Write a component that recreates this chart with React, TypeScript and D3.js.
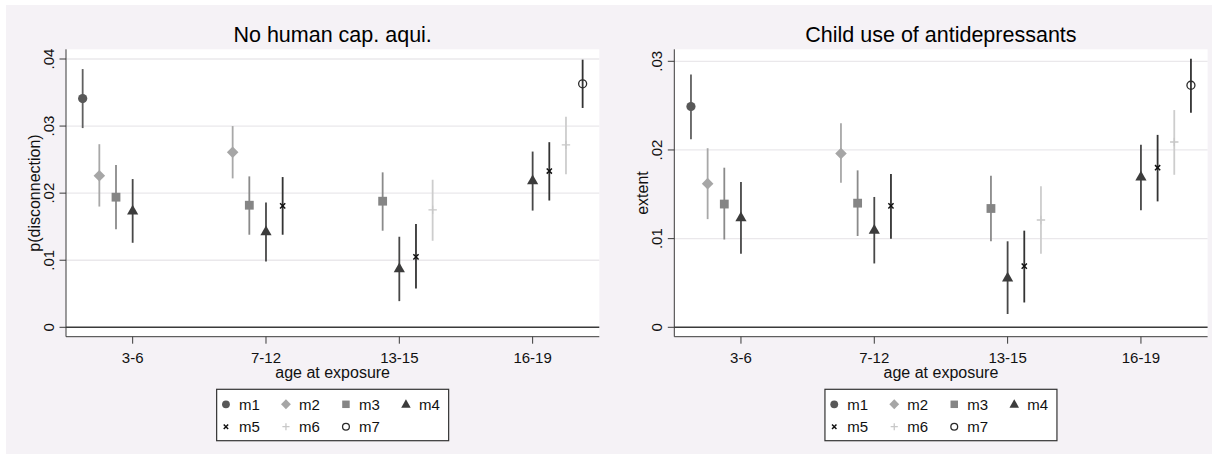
import React from "react";
import * as d3 from "d3";

// Age-at-exposure groups and model names
const categories = ["3-6", "7-12", "13-15", "16-19"];
const seriesNames = ["m1", "m2", "m3", "m4", "m5", "m6", "m7"];

// Panel 1: p(disconnection) — point estimates and 95% CI bounds per model and age group
const discEst: (number | null)[][] = [
  [0.0341, null, null, null],
  [0.0226, 0.0261, null, null],
  [0.0194, 0.0182, 0.0188, null],
  [0.0174, 0.0143, 0.0088, 0.0219],
  [null, 0.0181, 0.0105, 0.0233],
  [null, null, 0.0175, 0.0272],
  [null, null, null, 0.0363],
];
const discLo: (number | null)[][] = [
  [0.0297, null, null, null],
  [0.018, 0.0222, null, null],
  [0.0146, 0.0138, 0.0144, null],
  [0.0126, 0.0098, 0.0039, 0.0174],
  [null, 0.0138, 0.0058, 0.0189],
  [null, null, 0.0129, 0.0228],
  [null, null, null, 0.0327],
];
const discHi: (number | null)[][] = [
  [0.0385, null, null, null],
  [0.0273, 0.03, null, null],
  [0.0242, 0.0225, 0.0231, null],
  [0.0221, 0.0186, 0.0135, 0.0262],
  [null, 0.0224, 0.0154, 0.0276],
  [null, null, 0.022, 0.0314],
  [null, null, null, 0.0399],
];
const discTicks = [0, 0.01, 0.02, 0.03, 0.04];

// Panel 2: extent of child antidepressant use
const adEst: (number | null)[][] = [
  [0.0249, null, null, null],
  [0.0162, 0.0196, null, null],
  [0.0139, 0.014, 0.0134, null],
  [0.0124, 0.011, 0.0056, 0.017],
  [null, 0.0137, 0.0069, 0.018],
  [null, null, 0.0121, 0.0209],
  [null, null, null, 0.0273],
];
const adLo: (number | null)[][] = [
  [0.0212, null, null, null],
  [0.0122, 0.0163, null, null],
  [0.0099, 0.0103, 0.0097, null],
  [0.0083, 0.0072, 0.0015, 0.0132],
  [null, 0.01, 0.0028, 0.0142],
  [null, null, 0.0083, 0.0172],
  [null, null, null, 0.0242],
];
const adHi: (number | null)[][] = [
  [0.0285, null, null, null],
  [0.0202, 0.023, null, null],
  [0.018, 0.0177, 0.0171, null],
  [0.0164, 0.0147, 0.0097, 0.0206],
  [null, 0.0173, 0.0109, 0.0217],
  [null, null, 0.0159, 0.0245],
  [null, null, null, 0.0303],
];
const adTicks = [0, 0.01, 0.02, 0.03];

const FONT = "'Liberation Sans', Arial, Helvetica, sans-serif";

type Style = { color: string; line: string; shape: string };
const styles: Style[] = [
  { color: "#585858", line: "#606060", shape: "circle" },
  { color: "#a6a6a6", line: "#a8a8a8", shape: "diamond" },
  { color: "#858585", line: "#8a8a8a", shape: "square" },
  { color: "#3c3c3c", line: "#484848", shape: "triangle" },
  { color: "#111111", line: "#333333", shape: "x" },
  { color: "#c8c8c8", line: "#cdcdcd", shape: "plus" },
  { color: "#2a2a2a", line: "#333333", shape: "ocircle" },
];

function Marker({ x, y, s, k = 1 }: { x: number; y: number; s: Style; k?: number }) {
  switch (s.shape) {
    case "circle":
      return <circle cx={x} cy={y} r={4.6 * k} fill={s.color} />;
    case "diamond": {
      const h = 5.8 * k;
      return <path d={`M${x},${y - h}L${x + h},${y}L${x},${y + h}L${x - h},${y}Z`} fill={s.color} />;
    }
    case "square": {
      const h = 4.4 * k;
      return <rect x={x - h} y={y - h} width={2 * h} height={2 * h} fill={s.color} />;
    }
    case "triangle": {
      const h = 5.6 * k;
      return (
        <path
          d={`M${x},${y - h * 1.05}L${x + h},${y + h * 0.7}L${x - h},${y + h * 0.7}Z`}
          fill={s.color}
        />
      );
    }
    case "x": {
      const h = 2.6 * k;
      return (
        <path
          d={`M${x - h},${y - h}L${x + h},${y + h}M${x - h},${y + h}L${x + h},${y - h}`}
          stroke={s.color}
          strokeWidth={1.5}
        />
      );
    }
    case "plus": {
      const h = 4.2 * k;
      return (
        <path
          d={`M${x - h},${y}L${x + h},${y}M${x},${y - h}L${x},${y + h}`}
          stroke={s.color}
          strokeWidth={1.3}
        />
      );
    }
    default:
      return <circle cx={x} cy={y} r={4 * k} fill="none" stroke={s.color} strokeWidth={1.3} />;
  }
}

type PanelProps = {
  dx: number;
  title: string;
  ylabel: string;
  yMax: number;
  ticks: number[];
  est: (number | null)[][];
  lo: (number | null)[][];
  hi: (number | null)[][];
};

function Panel({ dx, title, ylabel, yMax, ticks, est, lo, hi }: PanelProps) {
  const x = d3.scaleLinear().domain([-0.5, 3.5]).range([66 + dx, 599.3 + dx]);
  const yTop = yMax === 0.04 ? 59 : 61.3;
  const y = d3.scaleLinear().domain([0, yMax]).range([327.3, yTop]);
  const [x0, x1] = x.range();
  const top = 49.3;
  const bottom = 336.7;
  const cx = (x0 + x1) / 2;
  const fmt = (v: number) => (v === 0 ? "0" : d3.format(".2f")(v).replace(/^0/, ""));

  return (
    <g>
      <rect x={x0} y={top} width={x1 - x0} height={bottom - top} fill="#ffffff" />
      {ticks
        .filter((t) => t > 0)
        .map((t) => (
          <line key={t} x1={x0} x2={x1} y1={y(t)} y2={y(t)} stroke="#eae8eb" strokeWidth={1.3} />
        ))}
      <line x1={x0} x2={x1} y1={y(0)} y2={y(0)} stroke="#3a3a3a" strokeWidth={1.5} />
      {/* axes */}
      <line x1={x0} x2={x0} y1={top} y2={bottom} stroke="#3a3a3a" strokeWidth={1} />
      <line x1={x0} x2={x1} y1={bottom} y2={bottom} stroke="#3a3a3a" strokeWidth={1} />
      {ticks.map((t) => (
        <g key={"yt" + t}>
          <line x1={x0 - 6.5} x2={x0} y1={y(t)} y2={y(t)} stroke="#3a3a3a" strokeWidth={1} />
          <text
            transform={`translate(${x0 - 12.5},${y(t)}) rotate(-90)`}
            textAnchor="middle"
            fontFamily={FONT}
            fontSize={15}
            fill="#111"
          >
            {fmt(t)}
          </text>
        </g>
      ))}
      {categories.map((c, i) => (
        <g key={c}>
          <line x1={x(i)} x2={x(i)} y1={bottom} y2={bottom + 7} stroke="#3a3a3a" strokeWidth={1} />
          <text x={x(i)} y={362.5} textAnchor="middle" fontFamily={FONT} fontSize={15} fill="#111">
            {c}
          </text>
        </g>
      ))}
      <text
        transform={`translate(${x0 - 26},${(top + bottom) / 2}) rotate(-90)`}
        textAnchor="middle"
        fontFamily={FONT}
        fontSize={16}
        fill="#111"
      >
        {ylabel}
      </text>
      <text x={cx} y={378} textAnchor="middle" fontFamily={FONT} fontSize={16} fill="#111">
        age at exposure
      </text>
      <text x={cx} y={41.5} textAnchor="middle" fontFamily={FONT} fontSize={21.5} fill="#000">
        {title}
      </text>

      {/* confidence intervals and point estimates */}
      {seriesNames.map((name, j) =>
        categories.map((c, i) => {
          const v = est[j][i];
          if (v == null) return null;
          const px = x(i + (j - 3) / 8);
          return (
            <g key={name + c}>
              <line
                x1={px}
                x2={px}
                y1={y(lo[j][i] as number)}
                y2={y(hi[j][i] as number)}
                stroke={styles[j].line}
                strokeWidth={1.8}
              />
              <Marker x={px} y={y(v)} s={styles[j]} />
            </g>
          );
        })
      )}

      {/* legend */}
      <rect
        x={cx - 116}
        y={389.3}
        width={232}
        height={51.4}
        fill="#ffffff"
        stroke="#333"
        strokeWidth={1.2}
      />
      {seriesNames.map((name, j) => {
        const col = j % 4;
        const row = Math.floor(j / 4);
        const lx = cx - 106.7 + col * 60;
        const ly = 404.3 + row * 22.4;
        return (
          <g key={"lg" + name}>
            <Marker x={lx} y={ly} s={styles[j]} k={0.85} />
            <text x={lx + 13} y={ly + 5.3} fontFamily={FONT} fontSize={15} fill="#111">
              {name}
            </text>
          </g>
        );
      })}
    </g>
  );
}

export default function App() {
  return (
    <svg
      width={1218}
      height={457}
      style={{ position: "absolute", left: 0, top: 0, display: "block" }}
    >
      <rect x={0} y={0} width={1218} height={457} fill="#ffffff" />
      <rect x={6} y={5} width={1206} height={449} fill="#f5f2f6" />
      <Panel
        dx={0}
        title="No human cap. aqui."
        ylabel="p(disconnection)"
        yMax={0.04}
        ticks={discTicks}
        est={discEst}
        lo={discLo}
        hi={discHi}
      />
      <Panel
        dx={608.3}
        title="Child use of antidepressants"
        ylabel="extent"
        yMax={0.03}
        ticks={adTicks}
        est={adEst}
        lo={adLo}
        hi={adHi}
      />
    </svg>
  );
}
